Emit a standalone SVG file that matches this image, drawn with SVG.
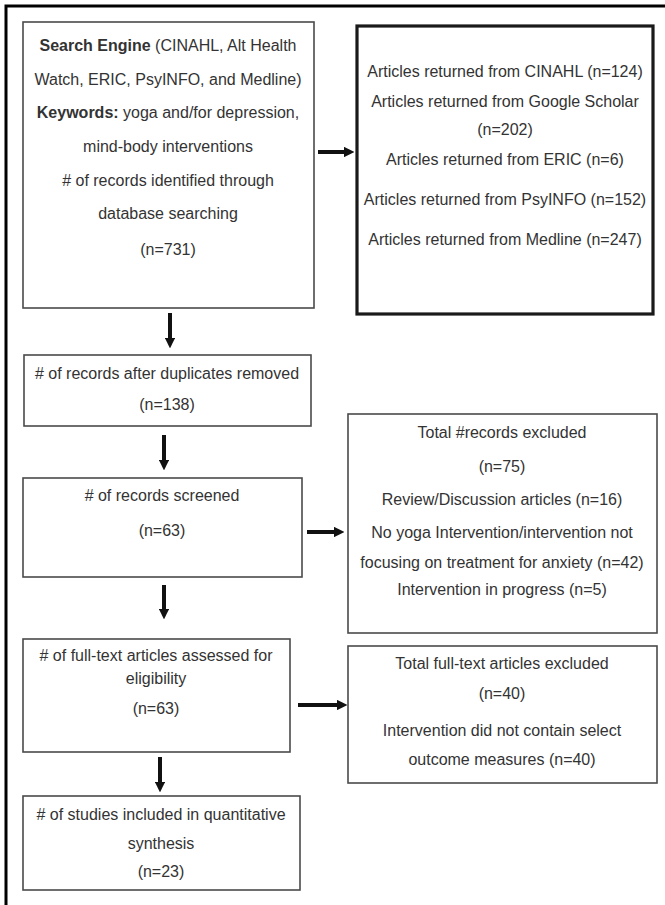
<svg xmlns="http://www.w3.org/2000/svg" width="665" height="905" viewBox="0 0 665 905">
<style>
.box{fill:#fff;stroke:#4a4a4a;stroke-width:1.6}
.thick{fill:#fff;stroke:#1a1a1a;stroke-width:3.2}
text{font-family:"Liberation Sans",Arial,sans-serif;font-size:16px;fill:#333;text-anchor:middle}
.b{font-weight:bold}
.conn{stroke:#111;stroke-width:4;fill:none}
</style>
<defs>
<marker id="ah" viewBox="0 0 10 10" refX="1" refY="5" markerWidth="2.6" markerHeight="2.6" orient="auto" markerUnits="strokeWidth">
<path d="M0,0 L10,5 L0,10 z" fill="#111"/>
</marker>
</defs>
<rect width="665" height="905" fill="#fff"/>
<path d="M6,905 V6 H665" fill="none" stroke="#000" stroke-width="3"/>

<g id="search">
<rect class="box" x="23" y="22" width="291" height="286"/>
<text x="168" y="51"><tspan class="b">Search Engine</tspan> (CINAHL, Alt Health</text>
<text x="168" y="85">Watch, ERIC, PsyINFO, and Medline)</text>
<text x="168" y="118"><tspan class="b">Keywords:</tspan> yoga and/for depression,</text>
<text x="168" y="152">mind-body interventions</text>
<text x="168" y="186"># of records identified through</text>
<text x="168" y="219">database searching</text>
<text x="168" y="255">(n=731)</text>
</g>

<g id="sources">
<rect class="thick" x="357" y="26" width="296" height="288"/>
<text x="505" y="77">Articles returned from CINAHL (n=124)</text>
<text x="505" y="107">Articles returned from Google Scholar</text>
<text x="505" y="135">(n=202)</text>
<text x="505" y="165">Articles returned from ERIC (n=6)</text>
<text x="505" y="205">Articles returned from PsyINFO (n=152)</text>
<text x="505" y="245">Articles returned from Medline (n=247)</text>
</g>

<g id="duplicates">
<rect class="box" x="24" y="355" width="287" height="71"/>
<text x="167" y="379"># of records after duplicates removed</text>
<text x="167" y="410">(n=138)</text>
</g>

<g id="screened">
<rect class="box" x="23" y="478" width="279" height="99"/>
<text x="162" y="501"># of records screened</text>
<text x="162" y="536">(n=63)</text>
</g>

<g id="excluded1">
<rect class="box" x="348" y="414" width="309" height="219"/>
<text x="502" y="438">Total #records excluded</text>
<text x="502" y="472">(n=75)</text>
<text x="502" y="505">Review/Discussion articles (n=16)</text>
<text x="502" y="538">No yoga Intervention/intervention not</text>
<text x="502" y="568">focusing on treatment for anxiety (n=42)</text>
<text x="502" y="595">Intervention in progress (n=5)</text>
</g>

<g id="fulltext">
<rect class="box" x="23" y="639" width="267" height="113"/>
<text x="156" y="661"># of full-text articles assessed for</text>
<text x="156" y="684">eligibility</text>
<text x="156" y="714">(n=63)</text>
</g>

<g id="excluded2">
<rect class="box" x="348" y="646" width="309" height="137"/>
<text x="502" y="669">Total full-text articles excluded</text>
<text x="502" y="699">(n=40)</text>
<text x="502" y="736">Intervention did not contain select</text>
<text x="502" y="765">outcome measures (n=40)</text>
</g>

<g id="included">
<rect class="box" x="23" y="796" width="277" height="94"/>
<text x="161" y="820"># of studies included in quantitative</text>
<text x="161" y="849">synthesis</text>
<text x="161" y="877">(n=23)</text>
</g>

<g id="connectors">
<line class="conn" x1="318" y1="152" x2="345" y2="152" marker-end="url(#ah)"/>
<line class="conn" x1="170" y1="313" x2="170" y2="339" marker-end="url(#ah)"/>
<line class="conn" x1="164" y1="435" x2="164" y2="461" marker-end="url(#ah)"/>
<line class="conn" x1="307" y1="532" x2="335" y2="532" marker-end="url(#ah)"/>
<line class="conn" x1="164" y1="585" x2="164" y2="610" marker-end="url(#ah)"/>
<line class="conn" x1="298" y1="705" x2="338" y2="705" marker-end="url(#ah)"/>
<line class="conn" x1="160" y1="757" x2="160" y2="783" marker-end="url(#ah)"/>
</g>
</svg>
